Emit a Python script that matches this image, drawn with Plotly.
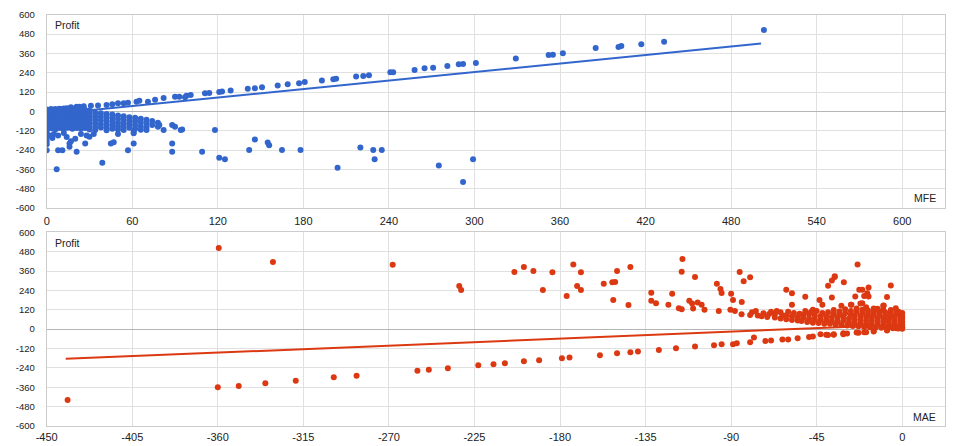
import plotly.graph_objects as go

BLUE = "#3366CC"
RED = "#DC3912"
FONT = "Liberation Sans, Arial, sans-serif"

# ---- MFE vs Profit (top) ----
mfe_band = [
    (1, 2), (3, 5), (5, 8), (8, 12), (11, 15), (14, 20), (17, 25), (21, 28), (23, 29), (26, 31),
    (31, 35), (36, 37), (42, 39), (46, 44), (50, 50), (54, 50), (57, 54), (63, 60), (65, 66), (71, 60),
    (76, 72), (82, 83), (90, 91), (93, 91), (97, 87), (98, 97), (101, 101), (111, 112), (114, 114),
    (121, 120), (123, 124), (129, 130), (141, 140), (146, 143), (151, 149), (162, 161), (169, 168),
    (177, 174), (181, 182), (193, 192), (201, 200), (203, 202), (217, 217), (222, 219), (226, 224),
    (241, 242), (243, 242), (258, 256), (265, 267), (271, 271), (281, 281), (289, 292), (292, 294),
    (301, 300), (329, 328), (352, 350), (355, 352), (362, 360), (385, 393), (401, 399), (403, 405),
    (417, 416), (433, 432), (503, 505),
]

mfe_cluster = [
    (0, 12), (0, -8), (0, -28), (0, -48), (0, -68), (0, -88), (0, -108), (0, -128),
    (3, 15), (3, -5), (3, -25), (3, -45), (3, -65), (3, -85), (3, -105),
    (6, 14), (6, -10), (6, -30), (6, -50), (6, -70), (6, -90), (6, -112),
    (9, 16), (9, -4), (9, -24), (9, -44), (9, -64), (9, -84), (9, -104),
    (12, 18), (12, -6), (12, -28), (12, -50), (12, -72), (12, -92), (12, -112),
    (15, 16), (15, -2), (15, -22), (15, -42), (15, -62), (15, -82), (15, -102),
    (18, 18), (18, -6), (18, -26), (18, -46), (18, -66), (18, -86), (18, -108),
    (21, 14), (21, -4), (21, -24), (21, -44), (21, -64), (21, -84), (21, -104),
    (24, 12), (24, -8), (24, -28), (24, -48), (24, -68), (24, -88), (24, -108),
    (27, 8), (27, -12), (27, -32), (27, -52), (27, -72), (27, -92), (27, -104),
    (30, 4), (30, -16), (30, -36), (30, -56), (30, -76), (30, -96), (30, -112),
    (34, -8), (34, -30), (34, -52), (34, -74), (34, -96), (34, -116),
    (38, -12), (38, -34), (38, -56), (38, -78), (38, -100),
    (42, -16), (42, -38), (42, -60), (42, -82), (42, -104), (42, -118),
    (46, -20), (46, -42), (46, -64), (46, -86), (46, -108),
    (50, -26), (50, -48), (50, -70), (50, -92), (50, -112),
    (54, -30), (54, -52), (54, -74), (54, -96), (54, -116),
    (58, -36), (58, -58), (58, -80), (58, -102),
    (62, -40), (62, -62), (62, -84), (62, -108),
    (66, -46), (66, -68), (66, -92), (66, -114),
    (70, -52), (70, -76), (70, -100),
    (74, -60), (74, -84), (78, -70), (78, -96),
    (61, -127), (70, -116), (79, -85), (82, -116),
    (88, -85), (90, -95), (94, -116), (95, -112),
]

mfe_scatter = [
    (0, -146), (0, -165), (0, -185), (0, -205), (0, -242), (2, -150), (4, -165), (5, -140),
    (7, -360), (8, -242), (8, -150), (11, -242), (12, -135), (14, -160), (16, -200), (16, -220),
    (17, -185), (20, -170), (21, -251), (24, -140), (27, -199), (28, -150), (30, -158), (33, -140),
    (39, -319), (45, -199), (47, -192), (50, -140), (57, -242), (61, -199), (61, -136), (88, -199),
    (88, -251), (109, -251), (118, -116), (121, -288), (125, -298), (142, -240), (146, -174),
    (155, -193), (156, -211), (165, -240), (178, -240), (204, -350), (220, -224), (229, -240),
    (230, -298), (235, -240), (275, -336), (292, -439), (299, -298),
]

mfe_trend_x = [0, 501]
mfe_trend_y = [-20, 421]

# ---- MAE vs Profit (bottom) ----
mae_low = [
    (-439, -439), (-360, -360), (-349, -352), (-335, -335), (-319, -319), (-299, -298), (-287, -288),
    (-255, -257), (-249, -251), (-239, -242), (-223, -224), (-215, -217), (-209, -211), (-199, -199),
    (-191, -193), (-179, -180), (-175, -176), (-159, -161), (-150, -149), (-143, -143), (-139, -139),
    (-128, -129), (-119, -118), (-109, -108), (-99, -99), (-95, -93), (-89, -93), (-87, -87),
    (-80, -81), (-78, -52), (-72, -73), (-69, -71), (-63, -64), (-60, -64), (-55, -56), (-49, -48),
    (-47, -46), (-43, -31), (-40, -35), (-39, -37), (-36, -31), (-36, -35), (-31, -31), (-31, -25),
    (-29, -27), (-24, -21), (-23, -23), (-20, -19), (-19, -19), (-15, -15), (-15, -10), (-8, -9),
    (-8, -4), (-3, 6),
]

mae_high = [
    (-359.5, 503), (-331, 416), (-268, 399), (-233, 267), (-232, 242), (-204, 354), (-199, 385),
    (-194, 360), (-189, 242), (-184, 352), (-176.5, 205), (-173, 401), (-171, 267), (-169, 242),
    (-169, 352), (-157, 281), (-152.5, 290), (-151, 292), (-152, 180), (-150, 360), (-144, 149),
    (-143, 385), (-132, 225), (-132, 176), (-129.5, 161), (-123, 151), (-121, 219), (-117.5, 130),
    (-116, 124), (-115.6, 435), (-116, 356), (-112, 176), (-110.5, 159), (-110, 128), (-109, 323),
    (-107.6, 165), (-105.5, 151), (-104, 120), (-97.5, 281), (-95.6, 248), (-95, 224), (-96.5, 112),
    (-90.4, 120), (-90, 219), (-89, 180), (-88, 112), (-85.5, 354), (-84.4, 168), (-83.4, 296),
    (-80, 321), (-84.5, 93), (-61, 244), (-58, 223), (-58, 151), (-51, 200), (-47, 120),
    (-43.5, 180), (-42, 151), (-39, 269), (-37, 302), (-35.5, 323), (-37, 196), (-32, 145),
    (-30.7, 290), (-27, 151), (-24.7, 203), (-23.5, 401), (-22.6, 244), (-21, 244), (-22, 159),
    (-20, 206), (-18.4, 223), (-17.7, 258), (-17.7, 203), (-15, 128), (-10, 145), (-8, 199),
    (-6, 271), (-3.4, 130), (-35.5, 327), (-26.7, 151), (-21, 161), (-9.7, 147), (-13, 120),
]

mae_dense = [
    (-80, 88), (-79, 104), (-76, 84), (-77, 112), (-74, 80), (-73, 98),
    (-71, 76), (-70, 94), (-69, 108), (-67, 72), (-67, 92), (-66, 112), (-64, 66), (-63, 84), (-64, 104),
    (-61, 62), (-61, 86), (-60, 108), (-58, 56), (-58, 80), (-57, 100), (-55, 54), (-55, 74), (-54, 96),
    (-53, 50), (-52, 70), (-52, 88), (-51, 112), (-50, 44), (-49, 66), (-49, 92), (-48, 106),
    (-47, 40), (-46, 62), (-46, 84), (-45, 112), (-44, 38), (-43, 58), (-43, 80), (-42, 100),
    (-41, 34), (-40, 56), (-40, 78), (-39, 104),
    (-38, 33), (-37, 52), (-37, 76), (-36, 96), (-36, 118),
    (-35, 28), (-34, 48), (-34, 70), (-33, 92), (-33, 110),
    (-32, 26), (-31, 52), (-31, 76), (-30, 98), (-30, 124),
    (-29, 22), (-28, 44), (-28, 66), (-27, 90), (-27, 112),
    (-26, 20), (-25, 40), (-25, 62), (-25, 84), (-24, 108), (-24, 128),
    (-23, 18), (-22, 38), (-22, 58), (-22, 80), (-21, 100), (-21, 120),
    (-20, 14), (-19, 34), (-19, 54), (-19, 76), (-18, 96), (-18, 116), (-19, 136),
    (-17, 12), (-16, 30), (-16, 52), (-16, 72), (-15, 92), (-15, 110),
    (-14, 10), (-13, 28), (-13, 48), (-13, 68), (-12, 88), (-12, 106), (-13, 126),
    (-11, 8), (-10, 26), (-10, 46), (-10, 66), (-9, 84), (-9, 104), (-10, 122),
    (-8, 8), (-7, 24), (-7, 44), (-7, 62), (-6, 82), (-6, 100), (-6, 118),
    (-5, 6), (-4, 22), (-4, 40), (-4, 60), (-4, 78), (-3, 96), (-3, 112),
    (-2, 4), (-1, 18), (-1, 36), (-1, 54), (-1, 72), (-1, 90), (-2, 108),
    (0, 3), (0, 12), (0, 28), (0, 46), (0, 64), (0, 82), (0, 100),
]

mae_trend_x = [-440, 0]
mae_trend_y = [-184, 28]

# tick labels (plain hyphen minus, as in the reference)
profit_ticks = [-600, -480, -360, -240, -120, 0, 120, 240, 360, 480, 600]
profit_labels = ["-600", "-480", "-360", "-240", "-120", "0", "120", "240", "360", "480", "600"]
mfe_ticks = [0, 60, 120, 180, 240, 300, 360, 420, 480, 540, 600]
mae_ticks = [-450, -405, -360, -315, -270, -225, -180, -135, -90, -45, 0]
mae_labels = ["-450", "-405", "-360", "-315", "-270", "-225", "-180", "-135", "-90", "-45", "0"]


def xy(points):
    xs, ys = zip(*points)
    return list(xs), list(ys)


fig = go.Figure()

top_pts = mfe_band + mfe_cluster + mfe_scatter
x, y = xy(top_pts)
fig.add_trace(go.Scatter(x=x, y=y, mode="markers", xaxis="x", yaxis="y",
                         marker=dict(color=BLUE, size=6), showlegend=False))
fig.add_trace(go.Scatter(x=mfe_trend_x, y=mfe_trend_y, mode="lines", xaxis="x", yaxis="y",
                         line=dict(color=BLUE, width=2), showlegend=False))

bot_pts = mae_low + mae_high + mae_dense
x, y = xy(bot_pts)
fig.add_trace(go.Scatter(x=x, y=y, mode="markers", xaxis="x2", yaxis="y2",
                         marker=dict(color=RED, size=6), showlegend=False))
fig.add_trace(go.Scatter(x=mae_trend_x, y=mae_trend_y, mode="lines", xaxis="x2", yaxis="y2",
                         line=dict(color=RED, width=2), showlegend=False))

x_dom = [46.7 / 960, 945 / 960]
axis_common = dict(
    showgrid=True, gridcolor="#e0e0e0", gridwidth=1,
    showline=True, mirror=True, linecolor="#cccccc", linewidth=1,
    ticks="", fixedrange=True, automargin=False,
)
y_common = dict(
    range=[-600, 600], tickvals=profit_ticks, ticktext=profit_labels,
    zeroline=True, zerolinecolor="#b5b5b5", zerolinewidth=1,
    tickfont=dict(size=9.5, color="#222222"), ticklabelstandoff=9,
)

fig.update_layout(
    width=960, height=446,
    margin=dict(l=0, r=0, t=0, b=0, autoexpand=False),
    paper_bgcolor="white", plot_bgcolor="white",
    font=dict(family=FONT, size=11, color="#222222"),
    xaxis=dict(domain=x_dom, anchor="y", range=[0, 630], tickvals=mfe_ticks,
               zeroline=False, tickfont=dict(size=11, color="#222222"),
               ticklabelstandoff=3, **axis_common),
    yaxis=dict(domain=[1 - 208 / 446, 1 - 14.7 / 446], anchor="x", **y_common, **axis_common),
    xaxis2=dict(domain=x_dom, anchor="y2", range=[-450, 22.5], tickvals=mae_ticks,
                ticktext=mae_labels, zeroline=False, tickfont=dict(size=11, color="#222222"),
                ticklabelstandoff=1, **axis_common),
    yaxis2=dict(domain=[1 - 426 / 446, 1 - 232.3 / 446], anchor="x2", **y_common, **axis_common),
    annotations=[
        dict(text="Profit", xref="x domain", yref="y domain", x=0.007, y=0.947,
             xanchor="left", yanchor="middle", showarrow=False, font=dict(size=10.5)),
        dict(text="MFE", xref="x domain", yref="y domain", x=0.992, y=0.052,
             xanchor="right", yanchor="middle", showarrow=False, font=dict(size=10.5)),
        dict(text="Profit", xref="x2 domain", yref="y2 domain", x=0.007, y=0.947,
             xanchor="left", yanchor="middle", showarrow=False, font=dict(size=10.5)),
        dict(text="MAE", xref="x2 domain", yref="y2 domain", x=0.992, y=0.049,
             xanchor="right", yanchor="middle", showarrow=False, font=dict(size=10.5)),
    ],
)

fig.write_html("out.html", config={"displayModeBar": False})

# drop the browser's default body margin so the figure sits at the page corner
with open("out.html", encoding="utf-8") as f:
    page = f.read()
page = page.replace("<body>", '<body style="margin:0">', 1)
with open("out.html", "w", encoding="utf-8") as f:
    f.write(page)
